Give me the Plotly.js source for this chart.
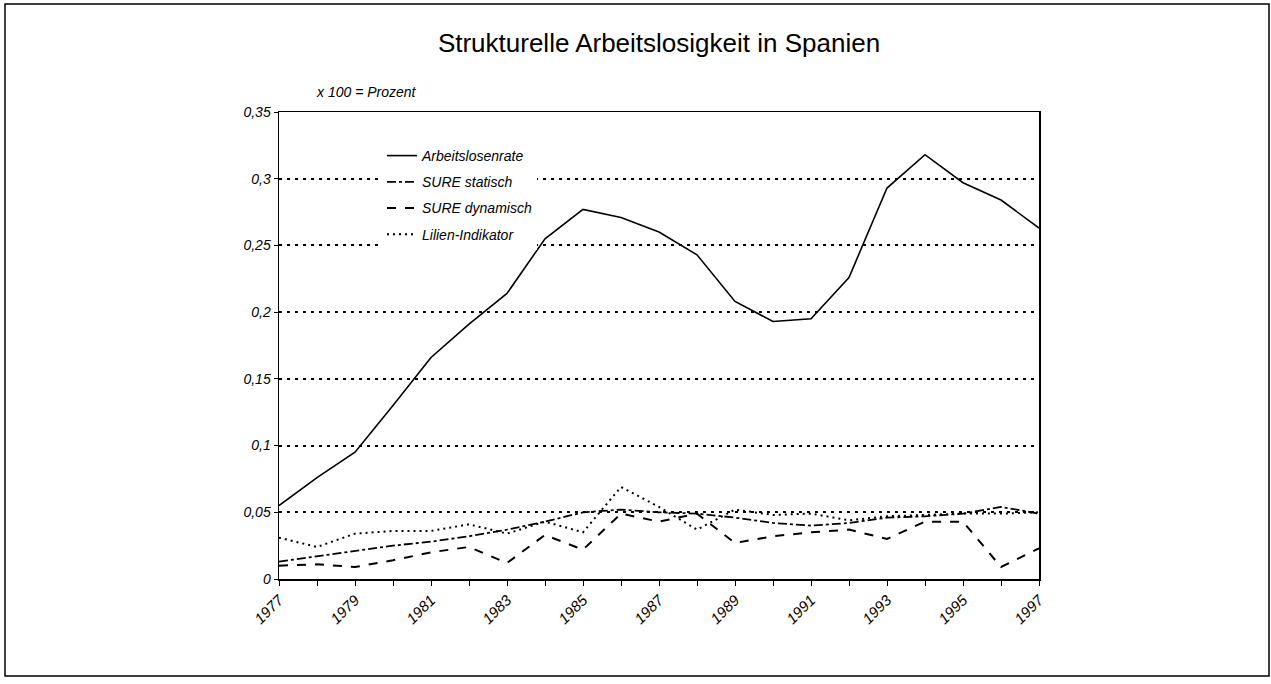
<!DOCTYPE html>
<html><head><meta charset="utf-8">
<script src="https://cdn.plot.ly/plotly-3.0.1.min.js"></script>
<style>html,body{margin:0;padding:0;background:#fff}#c{width:1271px;height:684px}</style>
</head><body><div id="c"></div>
<script>
const years = [1977,1978,1979,1980,1981,1982,1983,1984,1985,1986,1987,1988,1989,1990,1991,1992,1993,1994,1995,1996,1997];
const arbeitslosenrate = [0.055,0.076,0.095,0.130,0.166,0.191,0.214,0.255,0.277,0.271,0.260,0.243,0.208,0.193,0.195,0.226,0.293,0.318,0.297,0.284,0.263];
const sureStatisch = [0.013,0.017,0.021,0.025,0.028,0.032,0.037,0.043,0.050,0.052,0.050,0.049,0.046,0.042,0.040,0.042,0.046,0.047,0.049,0.054,0.049];
const sureDynamisch = [0.010,0.011,0.009,0.014,0.020,0.024,0.012,0.033,0.022,0.049,0.043,0.049,0.027,0.032,0.035,0.037,0.030,0.043,0.043,0.009,0.023];
const lilien = [0.031,0.024,0.034,0.036,0.036,0.041,0.034,0.043,0.035,0.069,0.054,0.037,0.052,0.048,0.049,0.044,0.047,0.048,0.049,0.049,0.050];
const seriesNames = ['Arbeitslosenrate','SURE statisch','SURE dynamisch','Lilien-Indikator'];
const xLabels = ['1977','','1979','','1981','','1983','','1985','','1987','','1989','','1991','','1993','','1995','','1997'];
const yTicks = [0,0.05,0.1,0.15,0.2,0.25,0.3,0.35];
const yLabels = ['0','0,05','0,1','0,15','0,2','0,25','0,3','0,35'];

const W=1271,H=684,L=279,R=232,T=112,B=105;
const pw=W-L-R, ph=H-T-B;
const px = v => (v-L)/pw;
const py = v => (H-B-v)/ph;

const font = {family:'"Liberation Sans", Arial, sans-serif', color:'#000'};
const mk = (y,name,dash,w,g) => ({x:years,y:y,name:name,legendgroup:g,type:'scatter',mode:'lines',line:{color:'#000',width:w,dash:dash}});
const data = [
  mk(arbeitslosenrate,seriesNames[0],'solid',1.6,'a'),
  mk(sureStatisch,seriesNames[1],'dashdot',1.8,'b'),
  mk(sureDynamisch,seriesNames[2],'dash',2,'c'),
  mk(lilien,seriesNames[3],'2px,4px',2,'d')
];
const layout = {
  width:W,height:H,margin:{l:L,r:R,t:T,b:B},
  paper_bgcolor:'#fff',plot_bgcolor:'#fff',
  font:Object.assign({size:14},font),
  title:{text:'Strukturelle Arbeitslosigkeit in Spanien',x:0.5,xref:'paper',xanchor:'center',y:1-43/H,yref:'container',yanchor:'middle',font:Object.assign({},font,{size:26})},
  showlegend:true,
  legend:{x:px(382),y:py(140),xanchor:'left',yanchor:'top',bgcolor:'#fff',borderwidth:0,tracegroupgap:5,traceorder:'grouped',font:Object.assign({},font,{size:14,style:'italic'})},
  xaxis:{range:[1977,1997],tickvals:years,ticktext:xLabels,tickangle:-45,ticks:'outside',ticklen:5,tickcolor:'#000',showgrid:false,zeroline:false,showline:true,linecolor:'#000',linewidth:1.5,mirror:true,tickfont:Object.assign({},font,{size:15,style:'italic'})},
  yaxis:{range:[0,0.35],tickvals:yTicks,ticktext:yLabels,ticks:'outside',ticklen:4,tickcolor:'#000',showgrid:true,gridcolor:'#000',griddash:'3px,5px',gridwidth:2,zeroline:false,showline:true,linecolor:'#000',linewidth:1.5,mirror:true,tickfont:Object.assign({},font,{size:14,style:'italic'})},
  annotations:[{text:'x 100 = Prozent',xref:'paper',yref:'paper',x:px(314),y:py(92),xanchor:'left',yanchor:'middle',showarrow:false,font:Object.assign({},font,{size:14,style:'italic'})}],
  shapes:[{type:'rect',xref:'paper',yref:'paper',x0:px(5),x1:px(1269),y0:py(676),y1:py(4),line:{color:'#000',width:1.5},fillcolor:'rgba(0,0,0,0)',layer:'below'}]
};
Plotly.newPlot('c',data,layout,{displayModeBar:false,staticPlot:true});
</script></body></html>
